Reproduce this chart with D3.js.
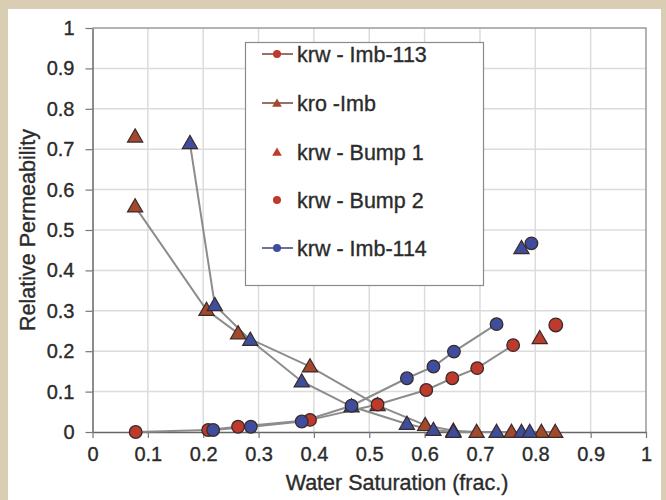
<!DOCTYPE html>
<html>
<head>
<meta charset="utf-8">
<script src="https://cdn.jsdelivr.net/npm/d3@7/dist/d3.min.js"></script>
<style>
  html, body { margin: 0; padding: 0; background: #ffffff; }
  svg { display: block; }
  text { font-family: "Liberation Sans", Arial, sans-serif; fill: #2b2b2b; stroke: #2b2b2b; stroke-width: 0.35px; }
</style>
</head>
<body>
<svg id="chart" width="666" height="500"></svg>
<script>
// Relative permeability curves vs. water saturation

// krw - Imb-113
const sw113  = [0.078, 0.209, 0.263, 0.393, 0.515, 0.603, 0.650, 0.695, 0.760];
const krw113 = [0.000, 0.005, 0.013, 0.030, 0.068, 0.104, 0.133, 0.158, 0.215];

// kro -Imb
const swKroImb = [0.077, 0.206, 0.263, 0.393, 0.515, 0.601, 0.652, 0.694, 0.757, 0.836];
const kroImb   = [0.558, 0.302, 0.244, 0.162, 0.066, 0.017, 0.003, 0.000, 0.000, 0.000];

// krw - Bump 1 / krw - Bump 2
const swBump1  = [0.808];
const krwBump1 = [0.232];
const swBump2  = [0.837];
const krwBump2 = [0.265];

// krw - Imb-114
const sw114  = [0.218, 0.286, 0.378, 0.468, 0.568, 0.616, 0.653, 0.730];
const krw114 = [0.005, 0.013, 0.026, 0.065, 0.133, 0.162, 0.199, 0.267];

// kro curve for Imb-114
const swKro114 = [0.176, 0.221, 0.285, 0.378, 0.468, 0.568, 0.616, 0.652, 0.730, 0.775, 0.790];
const kro114   = [0.715, 0.314, 0.228, 0.125, 0.063, 0.020, 0.005, 0.000, 0.000, 0.000, 0.000];

// single end points
const swKroEnd  = [0.077, 0.811];
const kroEnd    = [0.731, 0.000];
const swEnd114  = [0.775];
const krEnd114T = [0.455];
const swEnd114C = [0.793];
const krEnd114C = [0.467];

// axis ticks and labels
const tickValues = [0, 0.1, 0.2, 0.3, 0.4, 0.5, 0.6, 0.7, 0.8, 0.9, 1];
const tickLabels = ["0", "0.1", "0.2", "0.3", "0.4", "0.5", "0.6", "0.7", "0.8", "0.9", "1"];
const xTitle = "Water Saturation (frac.)";
const yTitle = "Relative Permeability";

const legendNames = ["krw - Imb-113", "kro -Imb", "krw - Bump 1", "krw - Bump 2", "krw - Imb-114"];

const RED = "#bd3a2c", BROWN = "#a2482c", BLUE = "#3e4e9c", LINE = "#8c8c8c", EDGE = "#3a2a2a";

const svg = d3.select("#chart");

// beige frame
svg.append("rect").attr("x", 0).attr("y", 0).attr("width", 666).attr("height", 500).attr("fill", "#d9ceb3");
svg.append("rect").attr("x", 8).attr("y", 9).attr("width", 653).attr("height", 491).attr("fill", "#ffffff");

const plot = { left: 92.5, right: 646, top: 28, bottom: 432 };
const x = d3.scaleLinear().domain([0, 1]).range([plot.left, plot.right]);
const y = d3.scaleLinear().domain([0, 1]).range([plot.bottom, plot.top]);

// gridlines
const grid = svg.append("g");
grid.selectAll("line.v").data(tickValues.slice(1, -1)).join("line")
  .attr("x1", d => x(d)).attr("x2", d => x(d)).attr("y1", plot.top).attr("y2", plot.bottom)
  .attr("stroke", "#dcdcdc").attr("stroke-width", 1.5);
grid.selectAll("line.h").data(tickValues.slice(1, -1)).join("line")
  .attr("y1", d => y(d)).attr("y2", d => y(d)).attr("x1", plot.left).attr("x2", plot.right)
  .attr("stroke", "#dcdcdc").attr("stroke-width", 1.5);

// plot frame (top and right)
svg.append("path")
  .attr("d", `M${plot.left},${plot.top}H${plot.right}V${plot.bottom}`)
  .attr("fill", "none").attr("stroke", "#9a9a9a").attr("stroke-width", 1.5);

// axes
const xAxis = d3.axisBottom(x).tickValues(tickValues).tickFormat((d, i) => tickLabels[i])
  .tickSizeInner(6).tickSizeOuter(0).tickPadding(9);
const yAxis = d3.axisLeft(y).tickValues(tickValues).tickFormat((d, i) => tickLabels[i])
  .tickSizeInner(7).tickSizeOuter(0).tickPadding(11);

const gx = svg.append("g").attr("transform", `translate(0,${plot.bottom})`).call(xAxis);
const gy = svg.append("g").attr("transform", `translate(${plot.left},0)`).call(yAxis);
[gx, gy].forEach(g => {
  g.select(".domain").attr("stroke", "#666").attr("stroke-width", 1.5);
  g.selectAll(".tick line").attr("stroke", "#777").attr("stroke-width", 1.2);
  g.selectAll(".tick text").attr("font-size", 20).attr("fill", "#2b2b2b")
    .attr("font-family", "'Liberation Sans', Arial, sans-serif");
});

// axis titles
svg.append("text").attr("x", 397).attr("y", 490).attr("text-anchor", "middle")
  .attr("font-size", 21.5).text(xTitle);
svg.append("text").attr("transform", `translate(35,230) rotate(-90)`).attr("text-anchor", "middle")
  .attr("font-size", 21.5).text(yTitle);

// series helpers
const zip = (xs, ys) => xs.map((v, i) => [v, ys[i]]);
const line = d3.line().x(d => x(d[0])).y(d => y(d[1]));
const tri = d3.symbol().type(d3.symbolTriangle);

function drawLine(pts) {
  svg.append("path").datum(pts).attr("d", line)
    .attr("fill", "none").attr("stroke", LINE).attr("stroke-width", 2);
}
function drawCircles(pts, fill, r) {
  svg.append("g").selectAll("circle").data(pts).join("circle")
    .attr("cx", d => x(d[0])).attr("cy", d => y(d[1])).attr("r", r)
    .attr("fill", fill).attr("stroke", EDGE).attr("stroke-width", 1.3);
}
function drawTriangles(pts, fill, size) {
  svg.append("g").selectAll("path").data(pts).join("path")
    .attr("transform", d => `translate(${x(d[0])},${y(d[1]) + 1})`)
    .attr("d", tri.size(size)())
    .attr("fill", fill).attr("stroke", EDGE).attr("stroke-width", 1.2);
}

const p113 = zip(sw113, krw113);
const pKro = zip(swKroImb, kroImb);
const p114 = zip(sw114, krw114);
const pKro114 = zip(swKro114, kro114);

drawLine(pKro);
drawLine(pKro114);
drawLine(p113);
drawLine(p114);

drawTriangles(pKro, BROWN, 100);
drawTriangles(zip(swKroEnd, kroEnd), BROWN, 100);
drawTriangles(pKro114, BLUE, 100);
drawTriangles(zip(swEnd114, krEnd114T), BLUE, 100);
drawCircles(p113, RED, 6.3);
drawCircles(p114, BLUE, 6.3);
drawCircles(zip(swEnd114C, krEnd114C), BLUE, 6.3);
drawTriangles(zip(swBump1, krwBump1), RED, 100);
drawCircles(zip(swBump2, krwBump2), RED, 6.8);

// legend
const lg = svg.append("g");
lg.append("rect").attr("x", 245.5).attr("y", 42.5).attr("width", 238).attr("height", 243)
  .attr("fill", "#ffffff").attr("stroke", "#8a8a8a").attr("stroke-width", 1.2);
const legendKinds = [
  { line: "#9a7068", mark: "circle", fill: RED },
  { line: "#9a7068", mark: "triangle", fill: BROWN },
  { line: null, mark: "triangle", fill: RED },
  { line: null, mark: "circle", fill: RED },
  { line: "#6c7399", mark: "circle", fill: BLUE }
];
const rowY = [54, 103, 152, 200, 248];
legendNames.forEach((name, i) => {
  const k = legendKinds[i];
  const cy = rowY[i];
  if (k.line) {
    lg.append("line").attr("x1", 262).attr("x2", 293).attr("y1", cy).attr("y2", cy)
      .attr("stroke", k.line).attr("stroke-width", 2);
  }
  if (k.mark === "circle") {
    lg.append("circle").attr("cx", 277).attr("cy", cy).attr("r", 4).attr("fill", k.fill);
  } else {
    lg.append("path").attr("transform", `translate(277,${cy + 1})`)
      .attr("d", tri.size(40)()).attr("fill", k.fill);
  }
  lg.append("text").attr("x", 297).attr("y", cy).attr("dy", "0.35em")
    .attr("font-size", 21.5).text(name);
});
</script>
</body>
</html>
